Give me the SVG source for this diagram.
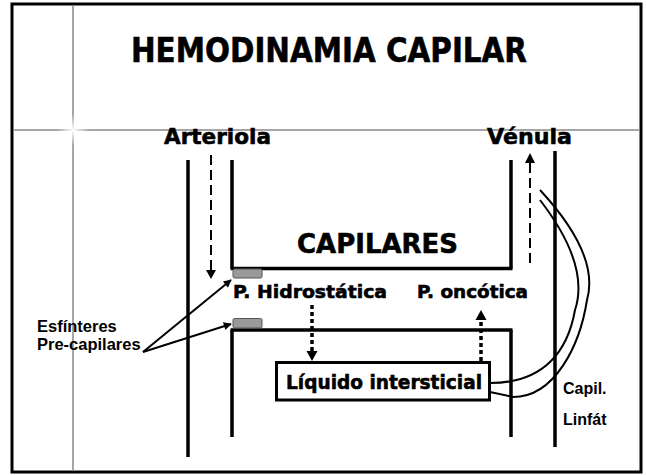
<svg xmlns="http://www.w3.org/2000/svg" width="646" height="475" viewBox="0 0 646 475">
<style>
.t{font-family:"DejaVu Sans","Liberation Sans",sans-serif;font-weight:bold;fill:#000;stroke:#000;stroke-width:0.6}
.s{font-family:"Liberation Sans",Arial,sans-serif;font-weight:bold;fill:#000}
.vessel{stroke:#000;stroke-width:3.5;fill:none}
.dash{stroke:#000;stroke-width:2;stroke-dasharray:10 5;fill:none}
.dot{stroke:#000;stroke-width:3.5;stroke-dasharray:4 3;fill:none}
.thin{stroke:#000;stroke-width:2;fill:none}
.sph{fill:#9a9a9a;stroke:#555;stroke-width:1}
</style>
<defs>
<radialGradient id="glow" cx="0.5" cy="0.5" r="0.5">
<stop offset="0" stop-color="#fff" stop-opacity="1"/>
<stop offset="1" stop-color="#fff" stop-opacity="0"/>
</radialGradient>
<marker id="ah" viewBox="0 0 10 10" refX="9" refY="5" markerWidth="9" markerHeight="8" orient="auto" markerUnits="userSpaceOnUse">
<path d="M0,0 L10,5 L0,10 z" fill="#000"/>
</marker>
</defs>
<rect x="0" y="0" width="646" height="475" fill="#fff"/>
<g id="frame">
<rect x="12" y="4" width="629" height="468" fill="none" stroke="#000" stroke-width="3"/>
<line x1="73" y1="5" x2="73" y2="471" stroke="#888" stroke-width="1.5"/>
<line x1="13" y1="130" x2="640" y2="130" stroke="#888" stroke-width="1.5"/>
<circle cx="73" cy="130" r="16" fill="url(#glow)"/>
</g>
<g id="title"><text class="t" x="131" y="62" font-size="34" stroke-width="0.9" textLength="396" lengthAdjust="spacingAndGlyphs">HEMODINAMIA CAPILAR</text></g>
<g id="arteriola">
<text class="t" x="164" y="144" font-size="22" textLength="107" lengthAdjust="spacingAndGlyphs">Arteriola</text>
<line class="vessel" x1="188" y1="160" x2="188" y2="457"/>
<line class="vessel" x1="232" y1="160" x2="232" y2="268.5"/>
<line class="vessel" x1="232" y1="330" x2="232" y2="437"/>
</g>
<g id="venula">
<text class="t" x="487" y="144" font-size="22" textLength="85" lengthAdjust="spacingAndGlyphs">Vénula</text>
<line class="vessel" x1="511" y1="160" x2="511" y2="268.5"/>
<line class="vessel" x1="511" y1="330" x2="511" y2="437"/>
</g>
<g id="capilares">
<text class="t" x="297" y="253" font-size="27" textLength="161" lengthAdjust="spacingAndGlyphs">CAPILARES</text>
<line class="vessel" x1="230.5" y1="268.5" x2="512.5" y2="268.5"/>
<line class="vessel" x1="230.5" y1="330" x2="512.5" y2="330"/>
</g>
<g id="esfinteres">
<rect class="sph" x="233" y="269" width="29" height="9" rx="1.5"/>
<rect class="sph" x="233" y="318.5" width="29" height="9.5" rx="1.5"/>
<text class="s" x="37" y="332" font-size="16.5">Esfínteres</text>
<text class="s" x="37" y="350" font-size="16.5">Pre-capilares</text>
</g>
<g id="presiones">
<text class="t" x="233" y="298" font-size="18" textLength="154" lengthAdjust="spacingAndGlyphs">P. Hidrostática</text>
<text class="t" x="417" y="298" font-size="18" textLength="111" lengthAdjust="spacingAndGlyphs">P. oncótica</text>
</g>
<g id="liquido">
<rect x="276.5" y="362.5" width="213" height="37.5" fill="#fff" stroke="#000" stroke-width="3"/>
<text class="t" x="286" y="389" font-size="20" textLength="196" lengthAdjust="spacingAndGlyphs">Líquido intersticial</text>
</g>
<g id="linfatico">
<line class="vessel" x1="555" y1="151" x2="555" y2="447"/>
<text class="s" x="563" y="394" font-size="16">Capil.</text>
<text class="s" x="563" y="425" font-size="16">Linfát</text>
</g>
<g id="connectors">
<line class="dash" x1="211" y1="155" x2="211" y2="271"/>
<path d="M206,270 L216,270 L211,279 z" fill="#000"/>
<line class="dash" x1="530" y1="263" x2="530" y2="162"/>
<path d="M525,163 L535,163 L530,153 z" fill="#000"/>
<line class="dot" x1="312" y1="305" x2="312" y2="352"/>
<path d="M306.5,351 L317.5,351 L312,361 z" fill="#000"/>
<line class="dot" x1="481" y1="361" x2="481" y2="320"/>
<path d="M475.5,320 L486.5,320 L481,310 z" fill="#000"/>
<line class="thin" x1="143" y1="352" x2="231" y2="280" marker-end="url(#ah)"/>
<line class="thin" x1="143" y1="352" x2="231" y2="324" marker-end="url(#ah)"/>
<path class="thin" d="M540,200 Q590,265 575,310 C568,350 545,383 490,383"/>
<path class="thin" d="M540,190 Q600,255 587,300 C580,345 555,397 513,397 L490,392"/>
</g>
</svg>
